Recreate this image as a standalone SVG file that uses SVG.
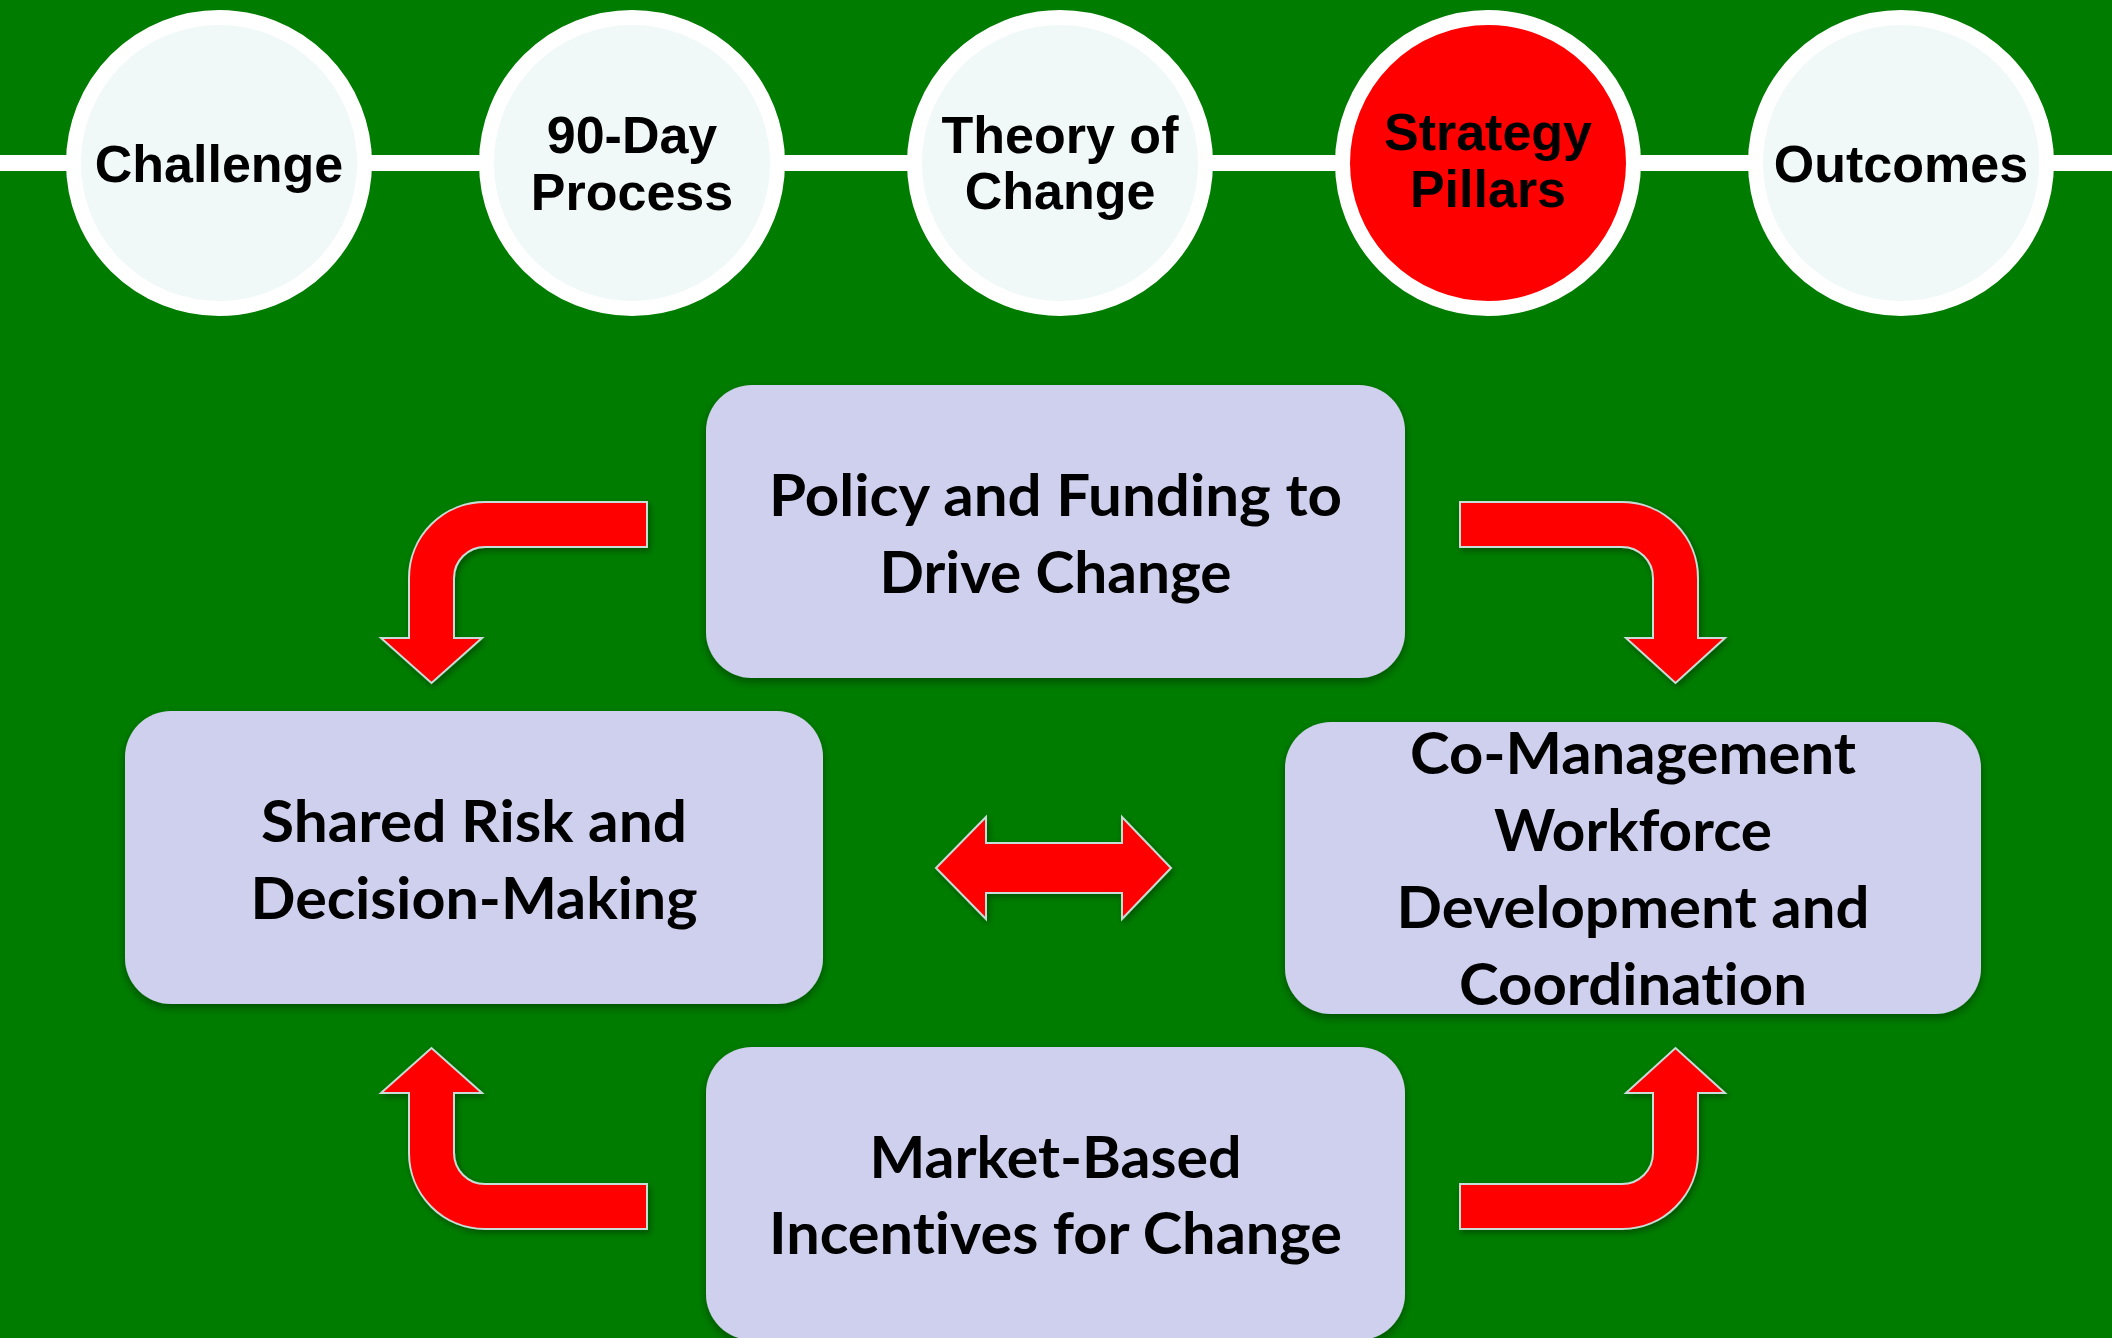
<svg xmlns="http://www.w3.org/2000/svg" width="2112" height="1338" viewBox="0 0 2112 1338">
  <defs>
    <filter id="boxShadow" x="-10%" y="-10%" width="120%" height="130%">
      <feDropShadow dx="0" dy="4" stdDeviation="4" flood-color="#000" flood-opacity="0.35"/>
    </filter>
    <filter id="arrowShadow" x="-10%" y="-10%" width="130%" height="130%">
      <feDropShadow dx="2" dy="3" stdDeviation="3" flood-color="#000" flood-opacity="0.35"/>
    </filter>
  </defs>
  <style>
    .stage { fill: #F0F8F8; stroke: #FFFFFF; stroke-width: 15; }
    .stage.active { fill: #FF0000; }
    .stage-label { font-family: "Liberation Sans", Arial, sans-serif; font-weight: 700; font-size: 52px; fill: #000; text-anchor: middle; }
    .pillar { fill: #CFD0EE; filter: url(#boxShadow); }
    .pillar-label { font-family: Lato, "Open Sans", sans-serif; font-weight: 700; font-size: 57px; fill: #000; text-anchor: middle; font-variant-ligatures: none; font-feature-settings: "liga" 0, "clig" 0; }
    .arrow { fill: #FF0000; stroke: #C8DCD8; stroke-width: 2; stroke-linejoin: miter; filter: url(#arrowShadow); }
  </style>

  <!-- background -->
  <rect x="0" y="0" width="2112" height="1338" fill="#007C00"/>

  <!-- timeline rail -->
  <rect x="0" y="155" width="2112" height="16" fill="#FFFFFF"/>

  <!-- stage circles -->
  <g id="stage-challenge">
    <circle class="stage" cx="219" cy="163" r="145.5"/>
    <text class="stage-label" x="219" y="182">Challenge</text>
  </g>
  <g id="stage-90day">
    <circle class="stage" cx="632" cy="163" r="145.5"/>
    <text class="stage-label" x="632" y="153">90-Day</text>
    <text class="stage-label" x="632" y="210">Process</text>
  </g>
  <g id="stage-theory">
    <circle class="stage" cx="1060" cy="163" r="145.5"/>
    <text class="stage-label" x="1060" y="153">Theory of</text>
    <text class="stage-label" x="1060" y="209">Change</text>
  </g>
  <g id="stage-strategy">
    <circle class="stage active" cx="1488" cy="163" r="145.5"/>
    <text class="stage-label" x="1488" y="150">Strategy</text>
    <text class="stage-label" x="1488" y="207">Pillars</text>
  </g>
  <g id="stage-outcomes">
    <circle class="stage" cx="1901" cy="163" r="145.5"/>
    <text class="stage-label" x="1901" y="182">Outcomes</text>
  </g>

  <!-- connectors -->
  <g id="connectors">
    <path class="arrow" d="M647,502 H485 A76,76 0 0 0 409,578 V638 H381 L431.5,683 L482,638 H454 V578 A31,31 0 0 1 485,547 H647 Z"/>
    <path class="arrow" d="M1460,502 H1622 A76,76 0 0 1 1698,578 V638 H1725 L1675.5,683 L1626,638 H1653 V578 A31,31 0 0 0 1622,547 H1460 Z"/>
    <path class="arrow" d="M647,1229 H485 A76,76 0 0 1 409,1153 V1093 H381 L431.5,1048 L482,1093 H454 V1153 A31,31 0 0 0 485,1184 H647 Z"/>
    <path class="arrow" d="M1460,1229 H1622 A76,76 0 0 0 1698,1153 V1093 H1725 L1675.5,1048 L1626,1093 H1653 V1153 A31,31 0 0 1 1622,1184 H1460 Z"/>
    <path class="arrow" d="M936,868 L986,817 V843 H1122 V817 L1171,868 L1122,919 V893 H986 V919 Z"/>
  </g>

  <!-- pillar boxes -->
  <g id="pillar-policy">
    <rect class="pillar" x="706" y="385" width="699" height="293" rx="46" ry="46"/>
    <text class="pillar-label" x="1055.5" y="516" textLength="573" lengthAdjust="spacingAndGlyphs">Policy and Funding to</text>
    <text class="pillar-label" x="1055.5" y="593" textLength="352" lengthAdjust="spacingAndGlyphs">Drive Change</text>
  </g>
  <g id="pillar-shared-risk">
    <rect class="pillar" x="125" y="711" width="698" height="293" rx="46" ry="46"/>
    <text class="pillar-label" x="474" y="842" textLength="426" lengthAdjust="spacingAndGlyphs">Shared Risk and</text>
    <text class="pillar-label" x="474" y="919" textLength="447" lengthAdjust="spacingAndGlyphs">Decision-Making</text>
  </g>
  <g id="pillar-co-management">
    <rect class="pillar" x="1285" y="722" width="696" height="292" rx="46" ry="46"/>
    <text class="pillar-label" x="1633" y="774" textLength="446" lengthAdjust="spacingAndGlyphs">Co-Management</text>
    <text class="pillar-label" x="1633" y="851" textLength="278" lengthAdjust="spacingAndGlyphs">Workforce</text>
    <text class="pillar-label" x="1633" y="928" textLength="473" lengthAdjust="spacingAndGlyphs">Development and</text>
    <text class="pillar-label" x="1633" y="1005" textLength="348" lengthAdjust="spacingAndGlyphs">Coordination</text>
  </g>
  <g id="pillar-market">
    <rect class="pillar" x="706" y="1047" width="699" height="293" rx="46" ry="46"/>
    <text class="pillar-label" x="1055.5" y="1178" textLength="372" lengthAdjust="spacingAndGlyphs">Market-Based</text>
    <text class="pillar-label" x="1055.5" y="1254" textLength="573" lengthAdjust="spacingAndGlyphs">Incentives for Change</text>
  </g>
</svg>
